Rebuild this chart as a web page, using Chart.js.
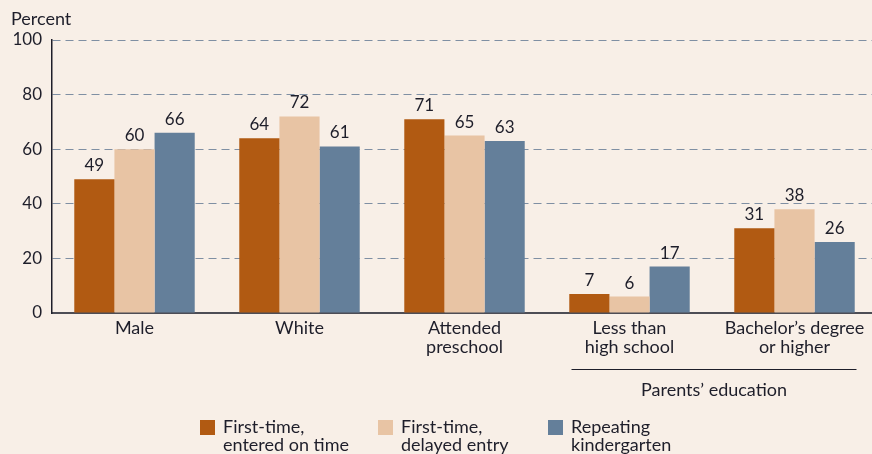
<!DOCTYPE html>
<html>
<head>
<meta charset="utf-8">
<script src="https://cdn.jsdelivr.net/npm/chart.js@4.4.1/dist/chart.umd.min.js"></script>
<style>
  html, body { margin: 0; padding: 0; background: #F8EFE7; }
  #wrap { position: relative; width: 872px; height: 454px; overflow: hidden; }
  #legend { position: absolute; top: 417px; left: 0; width: 872px; font-family: Lato, sans-serif; font-size: 18px; color: #1E1E2A; line-height: 18px; }
  .item { position: absolute; top: 0; }
  .sw { position: absolute; left: 0; top: 3px; width: 15px; height: 15px; }
  .lab { position: absolute; left: 23px; top: 0; white-space: nowrap; }
</style>
</head>
<body>
<div id="wrap">
  <canvas id="myChart" width="877" height="454"></canvas>
  <div id="legend"></div>
</div>
<script>
// dados do gráfico
const categorias = [['Male'], ['White'], ['Attended', 'preschool'], ['Less than', 'high school'], ['Bachelor\u2019s degree', 'or higher']];
const entradaNoPrazo = [49, 64, 71, 7, 31];
const entradaAtrasada = [60, 72, 65, 6, 38];
const repetentes = [66, 61, 63, 17, 26];
const nomesSeries = [['First-time,', 'entered on time'], ['First-time,', 'delayed entry'], ['Repeating', 'kindergarten']];
const coresSeries = ['#B15A12', '#E8C4A4', '#647F9A'];
const ticksY = [0, 20, 40, 60, 80, 100];

const fonte = 'Lato, sans-serif';
const corTexto = '#1E1E2A';

// legenda em html
const legendaX = [200, 378, 548];
const legenda = document.getElementById('legend');
nomesSeries.forEach(function(nome, i) {
    const item = document.createElement('div');
    item.className = 'item';
    item.style.left = legendaX[i] + 'px';
    item.innerHTML = '<div class="sw" style="background:' + coresSeries[i] + '"></div><div class="lab">' + nome.join('<br>') + '</div>';
    legenda.appendChild(item);
});

// plugin para rótulos, título do eixo e chave "Parents' education"
const extras = {
    id: 'extras',
    afterDatasetsDraw(chart) {
        const ctx = chart.ctx;
        ctx.save();
        ctx.fillStyle = corTexto;
        ctx.font = '17px ' + fonte;
        ctx.textAlign = 'center';
        ctx.textBaseline = 'bottom';
        chart.data.datasets.forEach(function(ds, i) {
            chart.getDatasetMeta(i).data.forEach(function(bar, j) {
                ctx.fillText(ds.data[j], bar.x, bar.y - 5);
            });
        });
        // título do eixo y
        ctx.textAlign = 'left';
        ctx.textBaseline = 'middle';
        ctx.font = '18px ' + fonte;
        ctx.fillText('Percent', 11, 19);
        // chave
        const x = chart.scales.x;
        const x1 = x.getPixelForValue(3) - 58;
        const x2 = x.getPixelForValue(4) + 62;
        ctx.strokeStyle = corTexto;
        ctx.lineWidth = 1;
        ctx.beginPath();
        ctx.moveTo(x1, 369.5);
        ctx.lineTo(x2, 369.5);
        ctx.stroke();
        ctx.textAlign = 'center';
        ctx.font = '18px ' + fonte;
        ctx.fillText('Parents\u2019 education', (x1 + x2) / 2, 390);
        ctx.restore();
    }
};

function criarDataset(i, dados) {
    return {
        label: nomesSeries[i].join(' '),
        data: dados,
        backgroundColor: coresSeries[i],
        borderWidth: 0,
        categoryPercentage: 0.73,
        barPercentage: 1.0
    };
}

window.onload = function() {
    const ctx = document.getElementById('myChart').getContext('2d');
    new Chart(ctx, {
        type: 'bar',
        data: {
            labels: categorias,
            datasets: [
                criarDataset(0, entradaNoPrazo),
                criarDataset(1, entradaAtrasada),
                criarDataset(2, repetentes)
            ]
        },
        options: {
            responsive: false,
            animation: false,
            layout: { padding: { top: 40, left: 0, right: 0, bottom: 0 } },
            plugins: { legend: { display: false }, tooltip: { enabled: false } },
            scales: {
                x: {
                    grid: { display: false, drawTicks: false },
                    border: { color: '#4D4D55', width: 2 },
                    ticks: { color: corTexto, font: { family: fonte, size: 18, lineHeight: 1.05 }, padding: 6, maxRotation: 0, autoSkip: false },
                    afterFit: function(s) { s.height = 141; }
                },
                y: {
                    min: 0,
                    max: 100,
                    afterBuildTicks: function(s) { s.ticks = ticksY.map(function(v) { return { value: v }; }); },
                    grid: {
                        color: function(c) { return c.tick.value === 0 ? 'rgba(0,0,0,0)' : '#7F8FA3'; },
                        drawTicks: false,
                        lineWidth: 1
                    },
                    border: { color: '#1E1E2A', width: 1.5, dash: [8, 5] },
                    ticks: { color: corTexto, font: { family: fonte, size: 17 }, padding: 10 },
                    afterFit: function(s) { s.width = 52; }
                }
            }
        },
        plugins: [extras]
    });
};
</script>
</body>
</html>
